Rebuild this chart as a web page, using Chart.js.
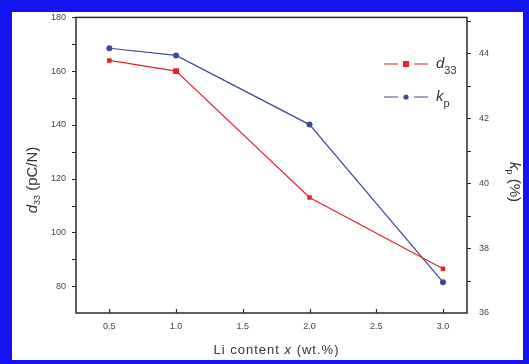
<!DOCTYPE html>
<html>
<head>
<meta charset="utf-8">
<script src="https://cdn.jsdelivr.net/npm/chart.js@4.4.1/dist/chart.umd.min.js"></script>
<style>
  html, body { margin: 0; padding: 0; background: #fff; }
  #wrap { width: 529px; height: 364px; position: relative; }
</style>
</head>
<body>
<div id="wrap"><canvas id="c" width="529" height="364"></canvas></div>
<script>
// Li content (wt.%)
const liContent = [0.5, 1.0, 2.0, 3.0];
// piezoelectric constant d33 (pC/N)
const d33Values = [164, 160, 113, 86.5];
// planar coupling factor kp (%)
const kpValues = [44.15, 43.93, 41.8, 36.95];

const xTickValues = [0.5, 1.0, 1.5, 2.0, 2.5, 3.0];
const d33TickValues = [80, 100, 120, 140, 160, 180];
const kpTickValues = [36, 38, 40, 42, 44];

const RED = '#e5222c';
const BLUE = '#3a4a9e';
const AXIS = '#2a2a2a';
const FONT = "'Liberation Sans', Arial, sans-serif";

function pts(xs, ys) { return xs.map((x, i) => ({ x: x, y: ys[i] })); }

// white page with a blue frame
const framePlugin = {
  id: 'frame',
  beforeDraw(chart) {
    const ctx = chart.ctx;
    ctx.save();
    ctx.fillStyle = '#1414f0';
    ctx.fillRect(0, 0, chart.width, chart.height);
    ctx.fillStyle = '#ffffff';
    ctx.fillRect(12, 12, 523 - 12, 360 - 12);
    ctx.restore();
  }
};

// plot box, tick marks, axis titles and legend
const decorPlugin = {
  id: 'decor',
  afterDraw(chart) {
    const ctx = chart.ctx;
    const a = chart.chartArea;
    const sx = chart.scales.x, sy = chart.scales.y, sy1 = chart.scales.y1;
    ctx.save();
    ctx.strokeStyle = AXIS;
    ctx.lineWidth = 1.5;
    ctx.strokeRect(a.left, a.top, a.right - a.left, a.bottom - a.top);

    ctx.lineWidth = 1.2;
    ctx.beginPath();
    // left axis: ticks every 10, outward
    for (let v = 80; v <= 180; v += 10) {
      const y = Math.round(sy.getPixelForValue(v)) + 0.5;
      ctx.moveTo(a.left, y); ctx.lineTo(a.left - 4, y);
    }
    // right axis: ticks every 1, outward
    for (let v = 37; v <= 45; v += 1) {
      const y = Math.round(sy1.getPixelForValue(v)) + 0.5;
      ctx.moveTo(a.right, y); ctx.lineTo(a.right + 4, y);
    }
    // bottom axis: ticks inward
    xTickValues.forEach(v => {
      const x = Math.round(sx.getPixelForValue(v)) + 0.5;
      ctx.moveTo(x, a.bottom); ctx.lineTo(x, a.bottom - 4);
    });
    ctx.stroke();

    ctx.fillStyle = '#333';
    ctx.textBaseline = 'middle';

    // bottom title
    ctx.save();
    ctx.letterSpacing = '1px';
    ctx.font = '13px ' + FONT;
    const t1 = 'Li content ', t2 = 'x', t3 = ' (wt.%)';
    const w1 = ctx.measureText(t1).width;
    ctx.font = 'italic 13px ' + FONT;
    const w2 = ctx.measureText(t2).width;
    ctx.font = '13px ' + FONT;
    const w3 = ctx.measureText(t3).width;
    let x0 = (a.left + a.right) / 2 + 5 - (w1 + w2 + w3) / 2;
    const yb = 350;
    ctx.textAlign = 'left';
    ctx.fillText(t1, x0, yb);
    ctx.font = 'italic 13px ' + FONT;
    ctx.fillText(t2, x0 + w1, yb);
    ctx.font = '13px ' + FONT;
    ctx.fillText(t3, x0 + w1 + w2, yb);
    ctx.restore();

    // left title: d33 (pC/N), rotated counter-clockwise
    ctx.save();
    ctx.translate(33, 180);
    ctx.rotate(-Math.PI / 2);
    ctx.textAlign = 'left';
    ctx.font = 'italic 15px ' + FONT;
    const dW = ctx.measureText('d').width;
    ctx.font = '9px ' + FONT;
    const sW = ctx.measureText('33').width;
    ctx.font = '15px ' + FONT;
    const uW = ctx.measureText(' (pC/N)').width;
    let lx = -(dW + sW + uW) / 2;
    ctx.font = 'italic 15px ' + FONT;
    ctx.fillText('d', lx, 0);
    ctx.font = '9px ' + FONT;
    ctx.fillText('33', lx + dW, 5);
    ctx.font = '15px ' + FONT;
    ctx.fillText(' (pC/N)', lx + dW + sW, 0);
    ctx.restore();

    // right title: kp (%), rotated clockwise
    ctx.save();
    ctx.translate(514, 182);
    ctx.rotate(Math.PI / 2);
    ctx.textAlign = 'left';
    ctx.font = 'italic 15px ' + FONT;
    const kW = ctx.measureText('k').width;
    ctx.font = '9px ' + FONT;
    const pW = ctx.measureText('p').width;
    ctx.font = '15px ' + FONT;
    const rW = ctx.measureText(' (%)').width;
    let rx = -(kW + pW + rW) / 2;
    ctx.font = 'italic 15px ' + FONT;
    ctx.fillText('k', rx, 0);
    ctx.font = '9px ' + FONT;
    ctx.fillText('p', rx + kW, 5);
    ctx.font = '15px ' + FONT;
    ctx.fillText(' (%)', rx + kW + pW, 0);
    ctx.restore();

    // legend
    const rows = [
      { y: 64, color: RED, name: 'd', sub: '33', square: true },
      { y: 97, color: BLUE, name: 'k', sub: 'p', square: false }
    ];
    rows.forEach(r => {
      ctx.strokeStyle = r.color;
      ctx.lineWidth = 1.2;
      ctx.beginPath();
      ctx.moveTo(384, r.y); ctx.lineTo(398, r.y);
      ctx.moveTo(414, r.y); ctx.lineTo(428, r.y);
      ctx.stroke();
      ctx.fillStyle = r.color;
      if (r.square) {
        ctx.fillRect(403, r.y - 3, 6, 6);
      } else {
        ctx.beginPath();
        ctx.arc(406, r.y, 2.6, 0, Math.PI * 2);
        ctx.fill();
      }
      ctx.fillStyle = '#333';
      ctx.textAlign = 'left';
      ctx.font = 'italic 15px ' + FONT;
      ctx.fillText(r.name, 436, r.y);
      const nw = ctx.measureText(r.name).width;
      ctx.font = '11px ' + FONT;
      ctx.fillText(r.sub, 436 + nw, r.y + 7);
    });

    ctx.restore();
  }
};

function fixTicks(values) {
  return function (scale) { scale.ticks = values.map(v => ({ value: v })); };
}

new Chart(document.getElementById('c'), {
  type: 'line',
  data: {
    datasets: [
      {
        label: 'd33',
        data: pts(liContent, d33Values),
        yAxisID: 'y',
        borderColor: RED,
        backgroundColor: RED,
        borderWidth: 1.2,
        pointStyle: 'rect',
        pointRadius: [3.2, 4.2, 3.2, 3.2],
        pointBorderWidth: 0,
        tension: 0
      },
      {
        label: 'kp',
        data: pts(liContent, kpValues),
        yAxisID: 'y1',
        borderColor: BLUE,
        backgroundColor: BLUE,
        borderWidth: 1.2,
        pointStyle: 'circle',
        pointRadius: 3,
        pointBorderWidth: 0,
        tension: 0
      }
    ]
  },
  options: {
    responsive: false,
    animation: false,
    events: [],
    layout: { padding: { top: 17, left: 0, right: 0, bottom: 0 } },
    plugins: { legend: { display: false }, tooltip: { enabled: false } },
    scales: {
      x: {
        type: 'linear',
        min: 0.25,
        max: 3.18,
        afterBuildTicks: fixTicks(xTickValues),
        afterFit(s) { s.height = 51; },
        grid: { display: false, drawTicks: false },
        border: { display: false },
        ticks: {
          padding: 8,
          color: '#444',
          font: { family: FONT, size: 9 },
          callback: v => Number(v).toFixed(1)
        }
      },
      y: {
        position: 'left',
        min: 70,
        max: 180,
        afterBuildTicks: fixTicks(d33TickValues),
        afterFit(s) { s.width = 76; },
        grid: { display: false, drawTicks: false },
        border: { display: false },
        ticks: {
          padding: 10,
          color: '#444',
          font: { family: FONT, size: 9 },
          callback: v => String(v)
        }
      },
      y1: {
        position: 'right',
        min: 36,
        max: 45.1,
        afterBuildTicks: fixTicks(kpTickValues),
        afterFit(s) { s.width = 62; },
        grid: { display: false, drawTicks: false },
        border: { display: false },
        ticks: {
          padding: 12,
          color: '#444',
          font: { family: FONT, size: 9 },
          callback: v => String(v)
        }
      }
    }
  },
  plugins: [framePlugin, decorPlugin]
});
</script>
</body>
</html>
